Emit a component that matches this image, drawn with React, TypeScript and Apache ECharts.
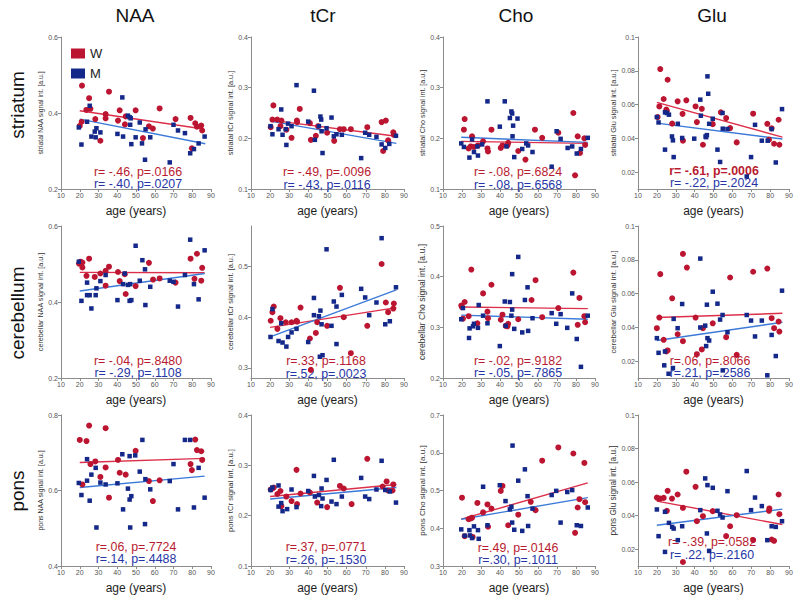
import React, { useEffect, useRef } from 'react';
import * as echarts from 'echarts';

type P = [number, number];

const columnTitles = ['NAA', 'tCr', 'Cho', 'Glu'];
const rowTitles = ['striatum', 'cerebellum', 'pons'];
const legendNames = ['W', 'M'];
const xTickValues = [10, 20, 30, 40, 50, 60, 70, 80, 90];
const xName = 'age (years)';

const yNames = [
  'striatal NAA signal int. [a.u.]', 'striatal tCr signal int. [a.u.]', 'striatal Cho signal int. [a.u.]', 'striatal Glu signal int. [a.u.]',
  'cerebellar NAA signal int. [a.u.]', 'cerebellar tCr signal int. [a.u.]', 'cerebellar Cho signal int. [a.u.]', 'cerebellar Glu signal int. [a.u.]',
  'pons NAA signal int. [a.u.]', 'pons tCr signal int. [a.u.]', 'pons Cho signal int. [a.u.]', 'pons Glu signal int. [a.u.]',
];

const yMins = [0.2, 0.1, 0.1, 0.01, 0.2, 0.28, 0.2, 0.01, 0.4, 0.1, 0.3, 0.01];
const yMaxs = [0.6, 0.4, 0.4, 0.1, 0.6, 0.58, 0.5, 0.1, 0.8, 0.4, 0.7, 0.1];
const yTickNAA1 = [0.2, 0.4, 0.6];
const yTickCr1 = [0.1, 0.2, 0.3, 0.4];
const yTickGlu = [0.02, 0.04, 0.06, 0.08, 0.1];
const yTickCr2 = [0.3, 0.4, 0.5];
const yTickCho2 = [0.2, 0.3, 0.4, 0.5];
const yTickNAA3 = [0.4, 0.6, 0.8];
const yTickCho3 = [0.3, 0.4, 0.5, 0.6, 0.7];
const yTicks = [yTickNAA1, yTickCr1, yTickCr1, yTickGlu, yTickNAA1, yTickCr2, yTickCho2, yTickGlu, yTickNAA3, yTickCr1, yTickCho3, yTickGlu];

const statsW = [
  'r= -.46, p=.0166', 'r= -.49, p=.0096', 'r= -.08, p=.6824', 'r= -.61, p=.0006',
  'r= -.04, p=.8480', 'r=.33, p=.1168', 'r= -.02, p=.9182', 'r=.06, p=.8066',
  'r=.06, p=.7724', 'r=.37, p=.0771', 'r=.49, p=.0146', 'r= -.39, p=.0582',
];
const statsM = [
  'r= -.40, p=.0207', 'r= -.43, p=.0116', 'r= -.08, p=.6568', 'r= -.22, p=.2024',
  'r= -.29, p=.1108', 'r=.52, p=.0023', 'r= -.05, p=.7865', 'r=.21, p=.2586',
  'r=.14, p=.4488', 'r=.26, p=.1530', 'r=.30, p=.1011', 'r= .22, p=.2160',
];

// ---------- striatum ----------
const stNAA_W: P[] = [[20,0.366],[21.2,0.472],[21,0.377],[23.5,0.408],[25,0.439],[25.7,0.411],[28.3,0.384],[31,0.327],[33.8,0.397],[33.8,0.386],[35.6,0.456],[40.4,0.380],[41.3,0.407],[44.1,0.370],[44.5,0.391],[49.8,0.407],[53.7,0.334],[56.9,0.365],[59,0.359],[62.6,0.412],[71.1,0.384],[79.1,0.387],[79.8,0.307],[81.6,0.373],[82.5,0.364],[84.8,0.367],[85.3,0.354]];
const stNAA_M: P[] = [[19.5,0.362],[20.9,0.317],[23.9,0.377],[25.3,0.419],[26.2,0.338],[28,0.351],[28.5,0.336],[28.9,0.360],[31,0.349],[40.1,0.345],[42.7,0.441],[43.1,0.338],[45.7,0.393],[46.6,0.389],[46.9,0.369],[47.2,0.386],[47.5,0.318],[49.8,0.336],[52,0.375],[53.2,0.320],[54.8,0.277],[55.1,0.357],[57.6,0.336],[68,0.270],[70,0.369],[72.4,0.354],[76.1,0.347],[78.9,0.294],[80.9,0.305],[83.4,0.320],[86.6,0.338]];
const stNAA_fitW: P[] = [[20,0.406],[86,0.358]];
const stNAA_fitM: P[] = [[20,0.384],[87,0.319]];

const stCr_W: P[] = [[21.7,0.265],[21.2,0.237],[20.3,0.222],[23.7,0.237],[25.9,0.235],[25.4,0.224],[28.5,0.217],[31.2,0.201],[34,0.235],[34.1,0.232],[35.5,0.258],[40.8,0.230],[41.3,0.197],[43.9,0.205],[45.1,0.224],[49.8,0.211],[53.5,0.195],[56.5,0.218],[58.5,0.218],[62.2,0.218],[70.8,0.222],[78.3,0.232],[80.5,0.235],[81.7,0.196],[79.1,0.175],[84.4,0.212],[84.7,0.207]];
const stCr_M: P[] = [[20.2,0.224],[21.2,0.208],[24.4,0.218],[25.8,0.257],[26.5,0.207],[28.2,0.218],[28.5,0.187],[29.4,0.229],[31.2,0.224],[33.8,0.305],[39.9,0.233],[42.9,0.294],[43.4,0.197],[45.5,0.224],[46.3,0.243],[46.7,0.237],[46.9,0.214],[47.4,0.171],[49.5,0.220],[52.1,0.241],[53.3,0.204],[54.7,0.208],[57.5,0.207],[67.6,0.161],[69.7,0.211],[71.8,0.207],[75.6,0.203],[78.3,0.188],[80.2,0.181],[82.3,0.189],[85.8,0.205]];
const stCr_fitW: P[] = [[20,0.236],[86,0.204]];
const stCr_fitM: P[] = [[20,0.234],[86,0.190]];

const stCho_W: P[] = [[21,0.217],[21.4,0.238],[23.5,0.180],[24.6,0.184],[25.3,0.204],[26.3,0.183],[28.4,0.186],[31.1,0.194],[33.4,0.180],[33.7,0.174],[35.5,0.217],[40.4,0.181],[41.3,0.186],[43.9,0.186],[44.3,0.191],[49.6,0.175],[53.4,0.158],[58.4,0.217],[62.2,0.201],[70.7,0.211],[78.6,0.250],[79.5,0.127],[80.9,0.204],[82.1,0.171],[84.4,0.200],[84.8,0.187]];
const stCho_M: P[] = [[19.6,0.190],[21,0.183],[23.9,0.162],[25.3,0.198],[26.3,0.173],[28.1,0.184],[28.4,0.166],[30.6,0.188],[33.4,0.273],[39.9,0.223],[42.5,0.273],[43.4,0.184],[45.2,0.240],[46,0.253],[46.4,0.249],[46.6,0.204],[46.9,0.225],[47.5,0.163],[49.2,0.239],[51.7,0.179],[53.8,0.190],[54.8,0.186],[57.1,0.173],[67.2,0.144],[69.8,0.214],[71.9,0.199],[75.6,0.181],[78,0.184],[80.4,0.170],[82.6,0.179],[86.2,0.201]];
const stCho_fitW: P[] = [[19.6,0.194],[86.2,0.190]];
const stCho_fitM: P[] = [[19.6,0.202],[86.2,0.192]];

const stGlu_W: P[] = [[20.4,0.0526],[21.3,0.0589],[21.8,0.081],[23.6,0.0633],[25,0.057],[25.7,0.0747],[25.3,0.0562],[28.1,0.0487],[31,0.0619],[33.6,0.0545],[33.8,0.0386],[35.6,0.0625],[40.5,0.0589],[41.2,0.0496],[43.8,0.0575],[44.4,0.0362],[49.6,0.0484],[53.9,0.0554],[56.7,0.052],[58.8,0.0461],[62.3,0.0376],[71,0.0546],[78.5,0.0486],[79.4,0.0392],[80.8,0.0459],[82.1,0.0368],[84.5,0.051],[84.9,0.0362]];
const stGlu_M: P[] = [[20,0.0526],[20.9,0.0494],[24.3,0.0554],[24.3,0.0333],[25.3,0.055],[26.4,0.054],[28,0.0411],[28.5,0.0388],[28.9,0.0289],[31.1,0.0486],[33.4,0.0402],[39.8,0.0398],[43,0.0629],[43.3,0.0534],[45.8,0.0411],[46.1,0.0407],[46.5,0.0419],[46.8,0.0767],[47.2,0.0664],[47.7,0.0486],[49.6,0.0516],[52.1,0.0333],[53.5,0.026],[54.8,0.055],[54.9,0.0457],[57.4,0.0455],[67.6,0.0174],[69.9,0.0289],[72,0.048],[75.6,0.0386],[78.7,0.0386],[80.8,0.0455],[83,0.0257],[86.3,0.0573]];
const stGlu_fitW: P[] = [[20,0.0613],[86.5,0.0407]];
const stGlu_fitM: P[] = [[20,0.049],[86.5,0.0396]];

// ---------- cerebellum ----------
const ceNAA_W: P[] = [[19.6,0.501],[20.4,0.506],[21.4,0.504],[21.4,0.491],[23.6,0.469],[25,0.514],[28,0.466],[31,0.475],[33.8,0.482],[33.8,0.443],[35.6,0.493],[40.4,0.479],[41.3,0.455],[44,0.473],[44.5,0.421],[49.8,0.442],[56.9,0.503],[59.1,0.459],[62.6,0.462],[71.1,0.451],[79.1,0.514],[81.2,0.461],[82.5,0.527],[84.8,0.456],[85.3,0.490]];
const ceNAA_M: P[] = [[19.5,0.506],[20.9,0.403],[23.9,0.451],[23.9,0.418],[25.3,0.418],[26.2,0.383],[28.5,0.418],[28.9,0.436],[31,0.455],[33.8,0.471],[40.1,0.405],[43.1,0.447],[44,0.475],[45.7,0.445],[46.6,0.403],[46.9,0.447],[47.5,0.405],[49.8,0.548],[52,0.456],[53.4,0.510],[54.8,0.486],[55,0.392],[57.6,0.440],[68,0.456],[70,0.453],[72.4,0.388],[76.1,0.471],[78.9,0.564],[80.9,0.447],[83.4,0.407],[86.6,0.536]];
const ceNAA_fitW: P[] = [[20,0.478],[86.6,0.477]];
const ceNAA_fitM: P[] = [[20,0.429],[86.6,0.475]];

const ceCr_W: P[] = [[20.3,0.393],[21.2,0.410],[21.9,0.421],[23.8,0.377],[25.4,0.398],[28.2,0.390],[31.2,0.390],[33.8,0.393],[34.1,0.391],[35.9,0.419],[40.8,0.358],[43.9,0.369],[44.6,0.390],[49.8,0.383],[56.5,0.458],[58.5,0.400],[62.2,0.329],[41.3,0.296],[70.8,0.383],[78.3,0.505],[80.5,0.429],[81.7,0.410],[84.4,0.417],[84.7,0.427]];
const ceCr_M: P[] = [[20.2,0.361],[21.2,0.416],[24.4,0.353],[25.8,0.388],[26.5,0.350],[28.5,0.342],[29.4,0.361],[31.2,0.370],[33.8,0.377],[39.9,0.351],[42.9,0.438],[42.9,0.404],[45.5,0.402],[46.3,0.413],[46,0.322],[47.4,0.325],[46.9,0.386],[49.5,0.534],[52.1,0.383],[53.3,0.431],[54.7,0.421],[54.7,0.347],[57.5,0.444],[67.6,0.456],[69.7,0.439],[71.8,0.404],[75.6,0.429],[78.3,0.556],[80.2,0.386],[82.6,0.392],[85.8,0.459]];
const ceCr_fitW: P[] = [[20,0.380],[86,0.419]];
const ceCr_fitM: P[] = [[20,0.361],[86,0.454]];

const ceCho_W: P[] = [[19.6,0.343],[20,0.340],[20.5,0.317],[21.4,0.350],[23.5,0.322],[24.9,0.414],[28.1,0.308],[31.1,0.367],[33.4,0.331],[33.7,0.318],[35.5,0.384],[40.4,0.315],[41.3,0.325],[43,0.303],[44.3,0.307],[43.9,0.302],[49.6,0.316],[56.6,0.354],[58.7,0.393],[62.2,0.320],[70.7,0.338],[78.6,0.408],[80.9,0.305],[81.8,0.358],[84.4,0.322],[84.8,0.310]];
const ceCho_M: P[] = [[19.6,0.316],[20.5,0.338],[23.7,0.279],[24,0.298],[25.8,0.302],[26.3,0.307],[28.4,0.299],[28.8,0.344],[31.1,0.323],[33.4,0.308],[39.9,0.263],[42.5,0.351],[43,0.303],[45.2,0.350],[46,0.323],[46.4,0.335],[46.4,0.405],[47.5,0.297],[49.6,0.439],[51.7,0.290],[53.1,0.354],[54.5,0.379],[54.8,0.293],[57.1,0.318],[67.2,0.328],[69.6,0.307],[71.9,0.326],[75.4,0.299],[78,0.367],[80.4,0.277],[82.6,0.222],[86.2,0.323]];
const ceCho_fitW: P[] = [[19.6,0.340],[86.2,0.337]];
const ceCho_fitM: P[] = [[19.6,0.324],[86.2,0.316]];

const ceGlu_W: P[] = [[20,0.0395],[21.3,0.0458],[21.8,0.0715],[23.6,0.0326],[25,0.0257],[25.7,0.0263],[28.1,0.0572],[31,0.0359],[33.8,0.0318],[33.8,0.0835],[35.9,0.0754],[40.5,0.0458],[41.2,0.0241],[43.8,0.0269],[44.4,0.0395],[49.6,0.0424],[56.7,0.0342],[58.8,0.0695],[62.3,0.0237],[71,0.0729],[78.5,0.0748],[80.8,0.0454],[82.1,0.0395],[84.5,0.0434],[84.9,0.0375]];
const ceGlu_M: P[] = [[20,0.0336],[20.9,0.0249],[23.9,0.0175],[24.3,0.0257],[26.2,0.0125],[28.5,0.0159],[28.9,0.045],[31,0.0395],[33.4,0.0538],[43,0.0807],[43,0.0399],[45.6,0.041],[46.1,0.0289],[46.5,0.0534],[46.8,0.0336],[47.7,0.0322],[49.6,0.0611],[52.1,0.054],[53.5,0.0446],[54.8,0.0473],[54.9,0.0145],[57.4,0.0371],[67.6,0.0473],[69.9,0.044],[72,0.0346],[75.6,0.044],[78.5,0.0116],[80.8,0.0355],[83,0.023],[86.3,0.0617]];
const ceGlu_fitW: P[] = [[20,0.0458],[86.5,0.0483]];
const ceGlu_fitM: P[] = [[20,0.0322],[86.5,0.043]];

// ---------- pons ----------
const poNAA_W: P[] = [[20,0.734],[21.4,0.616],[23.6,0.731],[25,0.772],[25.7,0.670],[28.3,0.677],[31,0.636],[33.8,0.765],[33.8,0.661],[35.6,0.581],[40.4,0.681],[41.3,0.647],[44.5,0.642],[49.8,0.705],[56.9,0.625],[59,0.572],[62.6,0.627],[79.1,0.670],[79.8,0.654],[81.6,0.735],[82.5,0.707],[84.8,0.704],[85.3,0.681]];
const poNAA_M: P[] = [[19.5,0.620],[20.9,0.588],[23.9,0.683],[23.9,0.626],[25.3,0.573],[26.2,0.642],[28.5,0.660],[28.9,0.502],[31,0.621],[33.8,0.616],[40.1,0.619],[42.7,0.696],[43.1,0.550],[45.7,0.605],[46.6,0.691],[46.6,0.576],[46.9,0.502],[47.5,0.585],[49.6,0.693],[52,0.650],[53.4,0.734],[54.8,0.511],[55,0.630],[57.6,0.603],[68,0.625],[70,0.670],[72.4,0.550],[76.1,0.734],[78.9,0.734],[80.9,0.555],[83.4,0.660],[86.6,0.581]];
const poNAA_fitW: P[] = [[20,0.674],[86.6,0.685]];
const poNAA_fitM: P[] = [[20,0.608],[86.6,0.638]];

const poCr_W: P[] = [[20.3,0.252],[21.2,0.254],[21.9,0.256],[23.8,0.243],[25.4,0.249],[25.9,0.219],[28.5,0.238],[31.2,0.229],[33.8,0.291],[34.1,0.223],[35.9,0.244],[40.8,0.246],[44.6,0.226],[49.8,0.217],[56.5,0.259],[58.5,0.254],[62.6,0.223],[70.8,0.313],[78.8,0.258],[80.9,0.268],[81.7,0.250],[84,0.250],[84.4,0.262]];
const poCr_M: P[] = [[20.2,0.251],[21.2,0.256],[24.4,0.260],[24.4,0.218],[25.8,0.225],[26.5,0.209],[28.9,0.213],[31.2,0.252],[33.8,0.217],[39.9,0.249],[42.9,0.279],[43.4,0.238],[45.5,0.241],[46.7,0.219],[46.9,0.254],[47.4,0.234],[49.5,0.271],[52.1,0.228],[53.3,0.311],[54.7,0.223],[57.5,0.238],[67.6,0.275],[69.7,0.238],[71.8,0.233],[75.6,0.252],[78.3,0.309],[80.2,0.251],[82.6,0.248],[85.8,0.226]];
const poCr_fitW: P[] = [[20,0.238],[86,0.262]];
const poCr_fitM: P[] = [[20,0.233],[86,0.256]];

const poCho_W: P[] = [[20,0.481],[21.4,0.379],[23.5,0.424],[24.6,0.426],[25.3,0.428],[25.6,0.377],[28.1,0.467],[31.1,0.442],[33.4,0.463],[33.7,0.404],[35.5,0.452],[40.4,0.499],[41.3,0.512],[44.3,0.408],[49.6,0.436],[56.2,0.470],[58.7,0.448],[62.2,0.579],[70.7,0.614],[78.6,0.598],[79.5,0.388],[80.9,0.455],[81.8,0.477],[84.4,0.573],[84.8,0.469]];
const poCho_M: P[] = [[19.6,0.397],[21.4,0.380],[23.9,0.395],[24.2,0.381],[25.3,0.374],[26.3,0.405],[28.4,0.395],[28.8,0.372],[31.1,0.510],[33.4,0.408],[39.9,0.514],[42.9,0.472],[45.2,0.450],[46,0.457],[46.4,0.415],[46.6,0.619],[47.5,0.396],[49.6,0.526],[51.7,0.393],[53.1,0.556],[54.5,0.485],[54.8,0.406],[57.1,0.452],[67.2,0.488],[69.6,0.499],[71.9,0.415],[75.4,0.496],[78,0.501],[80.4,0.408],[82.6,0.406],[86.2,0.455]];
const poCho_fitW: P[] = [[19.6,0.424],[86.2,0.520]];
const poCho_fitM: P[] = [[19.6,0.424],[86.2,0.481]];

const poGlu_W: P[] = [[20,0.0508],[20.9,0.0502],[21.8,0.0502],[23.6,0.0506],[25.3,0.0429],[25.7,0.0548],[28,0.0502],[31,0.0526],[33.8,0.0447],[33.8,0.0124],[35.6,0.0662],[40.5,0.0572],[41.2,0.0367],[44.4,0.0397],[49.6,0.0427],[56.7,0.0278],[58.8,0.0337],[62.3,0.0403],[71,0.0254],[79.4,0.0429],[79.6,0.0443],[80.8,0.0258],[82.1,0.025],[84.5,0.0526],[84.9,0.0409]];
const poGlu_M: P[] = [[20,0.0437],[20.9,0.0278],[24.3,0.0423],[24.3,0.0184],[26.4,0.0357],[28.1,0.0333],[28.9,0.0323],[31.1,0.0254],[33.4,0.0337],[43,0.0433],[45.6,0.0622],[46.5,0.0294],[46.8,0.0582],[47.7,0.019],[49.6,0.0566],[52.1,0.0429],[53.5,0.0407],[54.8,0.0389],[57.4,0.0546],[67.6,0.0666],[69.9,0.0433],[72,0.0508],[75.6,0.0457],[78.5,0.0254],[80.8,0.0337],[83,0.0333],[86.3,0.0367]];
const poGlu_fitW: P[] = [[20,0.0487],[86.5,0.0347]];
const poGlu_fitM: P[] = [[20,0.0343],[86.5,0.0439]];

const pointsW = [stNAA_W, stCr_W, stCho_W, stGlu_W, ceNAA_W, ceCr_W, ceCho_W, ceGlu_W, poNAA_W, poCr_W, poCho_W, poGlu_W];
const pointsM = [stNAA_M, stCr_M, stCho_M, stGlu_M, ceNAA_M, ceCr_M, ceCho_M, ceGlu_M, poNAA_M, poCr_M, poCho_M, poGlu_M];
const fitsW = [stNAA_fitW, stCr_fitW, stCho_fitW, stGlu_fitW, ceNAA_fitW, ceCr_fitW, ceCho_fitW, ceGlu_fitW, poNAA_fitW, poCr_fitW, poCho_fitW, poGlu_fitW];
const fitsM = [stNAA_fitM, stCr_fitM, stCho_fitM, stGlu_fitM, ceNAA_fitM, ceCr_fitM, ceCho_fitM, ceGlu_fitM, poNAA_fitM, poCr_fitM, poCho_fitM, poGlu_fitM];

// ---------- layout & style ----------
const RED = '#bb1531';
const BLUE = '#14288a';
const RED_LINE = '#dc2f4a';
const BLUE_LINE = '#3b7ad8';
const RED_TEXT = '#b81b30';
const BLUE_TEXT = '#2635a6';
const AXIS = '#8c8c8c';
const FONT = '"Liberation Sans", Arial, Helvetica, sans-serif';
const STAT_SIZE = 12.4;
const STAT_GAP = 12.6;

const colLeft = [61, 251, 443, 638];
const colWidth = [150, 153, 152, 151];
const rowTop = [37, 226, 415];
const rowHeight = [152, 152, 151];
const yNameSize = [6.8, 7.3, 7.2, 7.4, 7.2, 7.4, 8.6, 7.8, 7, 7.7, 8, 8.2];
const statX = [138, 327, 518, 714, 138, 326, 518, 710, 136, 326, 518, 712];
const statY = [178, 178.5, 178.5, 177, 367, 367.5, 367, 367, 553, 553.5, 554, 548.5];
const titleX = [135, 323, 516, 712];
const rowLabelY = [105, 313, 491];

function buildOption() {
  const grid: any[] = [];
  const xAxis: any[] = [];
  const yAxis: any[] = [];
  const series: any[] = [];
  const graphic: any[] = [];

  for (let i = 0; i < 12; i++) {
    const r = Math.floor(i / 4);
    const c = i % 4;
    grid.push({ left: colLeft[c], top: rowTop[r], width: colWidth[c], height: rowHeight[r], containLabel: false });
    xAxis.push({
      gridIndex: i, type: 'value', min: 10, max: 90, interval: 10,
      axisLine: { lineStyle: { color: AXIS, width: 1 } },
      axisTick: { length: 3, lineStyle: { color: AXIS } },
      axisLabel: { fontSize: 7, color: '#555', margin: 3, fontFamily: FONT, customValues: xTickValues },
      splitLine: { show: false },
      name: xName, nameLocation: 'middle', nameGap: 16,
      nameTextStyle: { fontSize: 12, color: '#1e1e1e', fontFamily: FONT },
    });
    yAxis.push({
      gridIndex: i, type: 'value', min: yMins[i], max: yMaxs[i],
      axisLine: { show: true, lineStyle: { color: AXIS, width: 1 } },
      axisTick: { show: true, length: 3, lineStyle: { color: AXIS }, customValues: yTicks[i] },
      axisLabel: { fontSize: 7, color: '#555', margin: 3, fontFamily: FONT, customValues: yTicks[i] },
      splitLine: { show: false },
      name: yNames[i], nameLocation: 'middle', nameGap: 13,
      nameTextStyle: { fontSize: yNameSize[i], color: '#333', fontFamily: FONT },
    });
    series.push({
      name: 'W fit', type: 'line', xAxisIndex: i, yAxisIndex: i, data: fitsW[i],
      symbol: 'none', lineStyle: { color: RED_LINE, width: 1.4 }, z: 2, silent: true,
    });
    series.push({
      name: 'M fit', type: 'line', xAxisIndex: i, yAxisIndex: i, data: fitsM[i],
      symbol: 'none', lineStyle: { color: BLUE_LINE, width: 1.4 }, z: 2, silent: true,
    });
    series.push({
      name: legendNames[0], type: 'scatter', xAxisIndex: i, yAxisIndex: i, data: pointsW[i],
      symbol: 'circle', symbolSize: 6, itemStyle: { color: RED, opacity: 1 }, z: 3,
    });
    series.push({
      name: legendNames[1], type: 'scatter', xAxisIndex: i, yAxisIndex: i, data: pointsM[i],
      symbol: 'rect', symbolSize: 4.5, itemStyle: { color: BLUE, opacity: 1 }, z: 3,
    });
    graphic.push({
      type: 'text', x: statX[i], y: statY[i] - STAT_GAP / 2, z: 1,
      style: {
        text: statsW[i], fill: RED_TEXT,
        font: `${i === 3 ? 'bold ' : ''}${STAT_SIZE}px ${FONT}`,
        align: 'center', verticalAlign: 'middle',
      },
    });
    graphic.push({
      type: 'text', x: statX[i], y: statY[i] + STAT_GAP / 2, z: 1,
      style: {
        text: statsM[i], fill: BLUE_TEXT,
        font: `${STAT_SIZE}px ${FONT}`,
        align: 'center', verticalAlign: 'middle',
      },
    });
  }

  columnTitles.forEach((t, c) => {
    graphic.push({
      type: 'text', x: titleX[c], y: 15,
      style: { text: t, fill: '#111', font: `19px ${FONT}`, align: 'center', verticalAlign: 'middle' },
    });
  });
  rowTitles.forEach((t, r) => {
    graphic.push({
      type: 'text', x: 17, y: rowLabelY[r], rotation: Math.PI / 2,
      style: { text: t, fill: '#111', font: `19px ${FONT}`, align: 'center', verticalAlign: 'middle' },
    });
  });

  return {
    animation: false,
    backgroundColor: '#ffffff',
    textStyle: { fontFamily: FONT },
    grid, xAxis, yAxis, series, graphic,
    legend: {
      data: [
        { name: legendNames[0], icon: 'rect', itemStyle: { color: RED, opacity: 1 } },
        { name: legendNames[1], icon: 'rect', itemStyle: { color: BLUE, opacity: 1 } },
      ],
      orient: 'vertical', left: 66, top: 42, itemWidth: 14, itemHeight: 10, itemGap: 7,
      textStyle: { fontSize: 13, color: '#222', fontFamily: FONT },
      selectedMode: false,
    },
  };
}

export default function App() {
  const ref = useRef<HTMLDivElement>(null);
  useEffect(() => {
    if (!ref.current) return;
    const chart = echarts.init(ref.current, undefined, { renderer: 'svg' });
    chart.setOption(buildOption() as any);
    return () => chart.dispose();
  }, []);
  return (
    <div
      ref={ref}
      style={{ position: 'absolute', left: 0, top: 0, width: 800, height: 603, background: '#fff' }}
    />
  );
}
